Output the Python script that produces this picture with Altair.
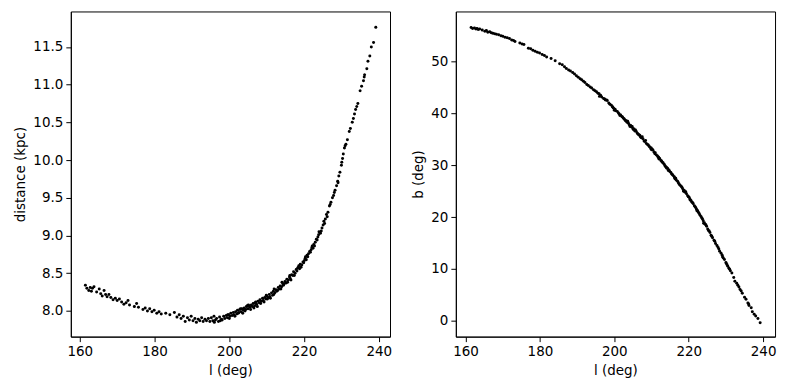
import altair as alt
import pandas as pd

# Galactic longitude (deg) of each star
l_deg = [
    161.5, 161.9, 162.4, 162.8, 163.1, 163.4, 163.8, 164.5, 165.2, 165.6,
    166.0, 166.5, 166.9, 167.3, 167.8, 168.3, 168.9, 169.5, 170.0, 170.6,
    171.2, 171.8, 172.4, 172.9, 173.3, 174.6, 175.2, 175.7, 176.9, 177.5,
    178.1, 178.7, 179.3, 179.9, 180.6, 181.2, 181.8, 183.0, 184.1, 185.3,
    186.0, 186.6, 187.1, 187.7, 188.2, 188.8, 189.3, 189.8, 190.3, 190.8,
    191.2, 191.7, 192.1, 192.6, 193.0, 193.5, 193.9, 194.4, 194.8,
    195.2, 195.6, 195.9, 196.3, 196.6, 197.1, 197.4, 197.9, 198.5, 198.8,
    199.2, 199.5, 199.8, 200.2, 200.4, 200.8, 201.1, 201.3, 201.7, 202.0,
    202.2, 202.6, 202.8, 203.2, 203.4, 203.8, 204.0, 204.4, 204.6, 205.0,
    205.3, 205.5, 205.9, 206.2, 206.4, 206.8, 207.1, 207.3, 207.7, 208.0,
    208.2, 208.6, 208.9, 209.1, 209.5, 209.8, 210.0, 210.4, 210.7, 210.9,
    211.3, 211.6, 211.8, 212.2, 212.5, 212.7, 213.1, 213.4, 213.6, 214.0,
    214.3, 214.5, 214.9, 215.2, 215.4, 215.8, 216.1, 216.3, 216.7, 217.0,
    217.2, 217.6, 217.9, 218.1, 218.5, 218.8, 219.0, 219.4, 219.7, 219.9,
    220.3, 220.6, 220.8, 221.2, 221.5, 221.7, 222.1, 222.4, 222.6, 223.0,
    223.3, 223.5, 223.9, 224.2, 224.4, 224.8, 225.1, 225.3, 225.7, 226.0,
    226.4, 226.8, 227.2, 227.6, 227.9, 228.3, 228.7, 229.0, 229.3, 229.6,
    230.0, 230.3, 230.5, 230.8, 231.2, 231.6,
    232.1, 232.4, 232.9, 233.2, 233.5, 233.8, 234.1, 234.4, 235.0, 235.4,
    235.9, 236.1, 236.2, 236.8, 237.1, 237.6, 238.0, 238.6, 239.2,
    196.0, 198.1, 200.0, 201.5, 202.4, 203.6, 204.2, 205.1, 205.7, 206.6,
    207.5, 208.4, 209.3, 210.2, 211.0, 211.9, 212.9, 213.8, 214.7, 215.6,
    216.5, 217.4, 218.3, 219.2, 220.1, 221.0, 221.9, 222.8, 223.7, 224.6,
    225.5, 226.2, 227.0, 228.1, 229.1, 230.1, 231.0, 209.9, 212.0, 214.1,
    216.2, 218.6, 220.4, 222.2, 224.0, 206.9, 204.8, 203.0, 199.6, 197.6,
]

# Heliocentric distance (kpc)
dist_kpc = [
    8.34, 8.30, 8.27, 8.31, 8.26, 8.30, 8.32, 8.25, 8.29, 8.23,
    8.20, 8.27, 8.22, 8.19, 8.22, 8.18, 8.15, 8.17, 8.14, 8.16,
    8.12, 8.09, 8.11, 8.14, 8.08, 8.06, 8.10, 8.05, 8.02, 8.04,
    8.00, 8.03, 7.99, 8.01, 7.97, 7.99, 7.96, 7.97, 7.95, 7.98,
    7.92, 7.95, 7.90, 7.93, 7.86, 7.91, 7.88, 7.93, 7.87, 7.90,
    7.85, 7.89, 7.87, 7.91, 7.86, 7.89, 7.87, 7.90, 7.86,
    7.91, 7.87, 7.93, 7.88, 7.90, 7.86, 7.92, 7.89, 7.93, 7.90,
    7.94, 7.91, 7.95, 7.93, 7.97, 7.94, 7.98, 7.95, 7.99, 7.96,
    8.01, 7.98, 8.02, 7.99, 8.03, 8.01, 8.04, 8.02, 8.06, 8.03,
    8.07, 8.05, 8.08, 8.06, 8.10, 8.07, 8.12, 8.09, 8.13, 8.11,
    8.15, 8.13, 8.17, 8.14, 8.18, 8.16, 8.20, 8.18, 8.22, 8.19,
    8.24, 8.21, 8.26, 8.24, 8.28, 8.26, 8.31, 8.29, 8.33, 8.32,
    8.36, 8.34, 8.39, 8.37, 8.42, 8.41, 8.45, 8.43, 8.48, 8.47,
    8.52, 8.50, 8.55, 8.53, 8.58, 8.56, 8.62, 8.61, 8.65, 8.64,
    8.70, 8.68, 8.74, 8.76, 8.79, 8.78, 8.84, 8.83, 8.88, 8.91,
    8.95, 8.94, 9.01, 9.04, 9.03, 9.10, 9.14, 9.19, 9.22, 9.28,
    9.31, 9.39, 9.44, 9.50, 9.53, 9.60, 9.66, 9.72, 9.79, 9.84,
    9.93, 10.02, 10.08, 10.16, 10.21, 10.27,
    10.38, 10.42, 10.50, 10.55, 10.61, 10.67, 10.71, 10.75, 10.92, 10.98,
    11.05, 11.10, 11.13, 11.21, 11.31, 11.38, 11.50, 11.56, 11.76,
    7.85, 7.88, 7.90, 7.93, 7.97, 7.97, 8.00, 8.08, 8.02, 8.04,
    8.06, 8.10, 8.12, 8.16, 8.17, 8.22, 8.27, 8.29, 8.36, 8.38,
    8.41, 8.47, 8.57, 8.58, 8.67, 8.72, 8.81, 8.86, 8.98, 9.06,
    9.16, 9.25, 9.41, 9.57, 9.70, 9.97, 10.19, 8.21, 8.29, 8.38,
    8.47, 8.60, 8.72, 8.86, 9.05, 8.11, 8.07, 8.03, 7.95, 7.87,
]

# Galactic latitude (deg)
b_deg = [
    56.6, 56.4, 56.5, 56.3, 56.4, 56.2, 56.3, 56.1, 55.9, 56.0,
    55.7, 55.8, 55.6, 55.5, 55.4, 55.3, 55.2, 55.0, 54.9, 54.7,
    54.6, 54.5, 54.2, 54.1, 53.9, 53.6, 53.4, 53.3, 52.6, 52.5,
    52.2, 52.0, 51.8, 51.7, 51.4, 51.2, 50.9, 50.6, 50.2, 49.6,
    49.4, 49.0, 48.7, 48.4, 48.2, 47.9, 47.6, 47.3, 47.0, 46.7,
    46.5, 46.2, 46.0, 45.6, 45.4, 45.1, 44.9, 44.6, 44.4,
    44.2, 43.9, 43.8, 43.5, 43.2, 42.9, 42.8, 42.6, 42.0, 41.8,
    41.6, 41.3, 41.0, 40.8, 40.5, 40.4, 40.1, 39.9, 39.7, 39.4,
    39.3, 39.0, 38.8, 38.6, 38.3, 38.1, 37.8, 37.7, 37.4, 37.1,
    37.0, 36.6, 36.5, 36.2, 36.0, 35.8, 35.4, 35.3, 35.1, 34.7,
    34.6, 34.2, 34.0, 33.9, 33.5, 33.2, 33.0, 32.9, 32.5, 32.2,
    32.0, 31.8, 31.5, 31.3, 30.9, 30.8, 30.5, 30.2, 29.9, 29.6,
    29.4, 29.0, 28.8, 28.6, 28.3, 28.0, 27.8, 27.4, 27.1, 26.9,
    26.6, 26.2, 26.0, 25.8, 25.3, 25.1, 24.8, 24.5, 24.1, 23.9,
    23.5, 23.2, 22.9, 22.6, 22.2, 22.0, 21.5, 21.2, 20.9, 20.4,
    20.1, 19.8, 19.3, 18.9, 18.6, 18.2, 17.7, 17.4, 17.0, 16.5,
    16.0, 15.5, 14.9, 14.5, 14.1, 13.4, 13.0, 12.6, 12.1, 11.8,
    11.2, 10.8, 10.5, 10.1, 9.6, 9.2,
    8.3, 7.6, 7.2, 6.8, 6.5, 6.0, 5.7, 5.3, 4.5, 4.1,
    3.4, 3.2, 2.9, 2.5, 1.7, 1.2, 0.9, 0.4, -0.4,
    43.3, 42.5, 40.6, 39.6, 39.1, 38.5, 37.5, 36.9, 36.8, 35.9,
    35.5, 34.8, 33.7, 33.1, 32.4, 31.6, 30.6, 29.7, 29.1, 28.2,
    27.5, 26.4, 25.6, 24.9, 23.8, 22.8, 21.8, 20.7, 19.6, 18.5,
    17.3, 16.3, 15.3, 13.8, 12.3, 11.0, 9.9, 33.4, 31.2, 29.4,
    27.6, 25.0, 23.3, 21.2, 18.8, 35.7, 37.5, 38.6, 41.2, 42.6,
]

x_ticks = [160, 180, 200, 220, 240]
dist_ticks = [8.0, 8.5, 9.0, 9.5, 10.0, 10.5, 11.0, 11.5]
b_ticks = [0, 10, 20, 30, 40, 50]

n = min(len(l_deg), len(dist_kpc), len(b_deg))
df = pd.DataFrame({"l": l_deg[:n], "dist": dist_kpc[:n], "b": b_deg[:n]})

FONT = "DejaVu Sans"
FS = 13.5

def axis(values, title, fmt=None):
    kw = dict(values=values, title=title, grid=False, domainColor="black",
              tickColor="black", tickSize=5, labelFont=FONT, labelFontSize=FS,
              labelColor="black", titleFont=FONT, titleFontSize=FS,
              titleFontWeight="normal", titleColor="black", labelPadding=3,
              titlePadding=5)
    if fmt:
        kw["format"] = fmt
    return alt.Axis(**kw)

base = alt.Chart(df).mark_circle(size=9, color="black", opacity=1)

left = base.encode(
    x=alt.X("l:Q", scale=alt.Scale(domain=[157.6, 243.0], nice=False, zero=False),
            axis=axis(x_ticks, "l (deg)")),
    y=alt.Y("dist:Q", scale=alt.Scale(domain=[7.66, 11.97], nice=False, zero=False),
            axis=axis(dist_ticks, "distance (kpc)", ".1f")),
).properties(width=320, height=326)

right = base.encode(
    x=alt.X("l:Q", scale=alt.Scale(domain=[157.4, 243.2], nice=False, zero=False),
            axis=axis(x_ticks, "l (deg)")),
    y=alt.Y("b:Q", scale=alt.Scale(domain=[-3.1, 59.7], nice=False, zero=False),
            axis=axis(b_ticks, "b (deg)")),
).properties(width=320, height=326)

chart = (
    alt.hconcat(left, right, spacing=18)
    .properties(padding={"left": 13, "top": 10, "right": 11, "bottom": 5},
                background="white")
    .configure_view(stroke="black", strokeWidth=1, strokeOpacity=1)
)

chart.save("out.html", embed_options={"renderer": "svg", "actions": False})
